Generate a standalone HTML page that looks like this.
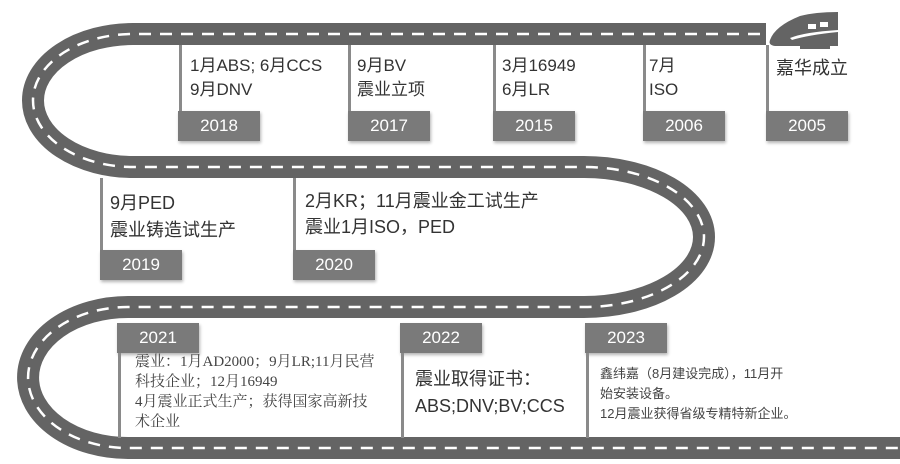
<!DOCTYPE html>
<html><head><meta charset="utf-8">
<style>
body{margin:0;width:900px;height:464px;background:#fff;overflow:hidden;position:relative;font-family:"Liberation Sans","Noto Sans CJK SC",sans-serif;}
svg{position:absolute;left:0;top:0}
.l{position:absolute;width:3px;background:#8a8a8a}
.y{position:absolute;width:82px;height:30px;background:#7a7a7a;color:#fff;font-size:17px;line-height:30px;text-align:center;box-shadow:1px 2px 3px rgba(0,0,0,.3)}
.t{position:absolute;color:#333;font-size:17px;line-height:24px;white-space:nowrap}
.s{position:absolute;color:#444;font-size:15px;line-height:20px;white-space:nowrap;font-family:"Liberation Serif","Noto Serif CJK SC",serif}
</style></head><body>
<svg width="900" height="464">
<g fill="none" stroke="#646464" stroke-width="22">
<path d="M766 34 H133 A100 66.5 0 0 0 133 167 H584 A120 70 0 0 1 584 307 H128 A100 70.5 0 0 0 128 448 H900"/>
</g>
<g fill="none" stroke="#fff" stroke-width="2.5" stroke-dasharray="12 9">
<path d="M760 34 H133 A100 66.5 0 0 0 133 167 H584 A120 70 0 0 1 584 307 H128 A100 70.5 0 0 0 128 448 H900"/>
</g>
<g fill="#646464">
<path d="M770 40 Q775 26 800 16 Q815 12 838 12 L838 46 L775 46 Q768 45 770 40Z"/>
<rect x="800" y="46" width="30" height="3"/>
</g>
<g fill="#fff"><rect x="808" y="24" width="8" height="5"/><rect x="820" y="22" width="8" height="5"/><path d="M790 38 Q805 32 838 30 L838 32 Q808 35 792 40Z"/></g>
</svg>

<div class="l" style="left:179px;top:45px;height:80px"></div><div class="y" style="left:178px;top:111px">2018</div>
<div class="t" style="left:190px;top:54px">1月ABS; 6月CCS<br>9月DNV</div>
<div class="l" style="left:348px;top:45px;height:80px"></div><div class="y" style="left:348px;top:111px">2017</div>
<div class="t" style="left:357px;top:54px">9月BV<br>震业立项</div>
<div class="l" style="left:493px;top:45px;height:80px"></div><div class="y" style="left:493px;top:111px">2015</div>
<div class="t" style="left:502px;top:54px">3月16949<br>6月LR</div>
<div class="l" style="left:643px;top:45px;height:80px"></div><div class="y" style="left:643px;top:111px">2006</div>
<div class="t" style="left:649px;top:54px">7月<br>ISO</div>
<div class="l" style="left:766px;top:45px;height:80px"></div><div class="y" style="left:766px;top:111px">2005</div>
<div class="t" style="left:776px;top:56px;font-size:18px">嘉华成立</div>

<div class="l" style="left:100px;top:178px;height:90px"></div><div class="y" style="left:100px;top:250px">2019</div>
<div class="t" style="left:110px;top:190px;font-size:18px;line-height:27px">9月PED<br>震业铸造试生产</div>
<div class="l" style="left:293px;top:178px;height:90px"></div><div class="y" style="left:293px;top:250px">2020</div>
<div class="t" style="left:305px;top:188px;font-size:18px;line-height:26px">2月KR；11月震业金工试生产<br>震业1月ISO，PED</div>

<div class="y" style="left:117px;top:323px">2021</div><div class="l" style="left:118px;top:353px;height:85px"></div>
<div class="s" style="left:135px;top:352px">震业：1月AD2000；9月LR;11月民营<br>科技企业；12月16949<br>4月震业正式生产；获得国家高新技<br>术企业</div>
<div class="y" style="left:400px;top:323px">2022</div><div class="l" style="left:401px;top:353px;height:85px"></div>
<div class="t" style="left:415px;top:366px;font-size:18px;line-height:27px">震业取得证书：<br>ABS;DNV;BV;CCS</div>
<div class="y" style="left:585px;top:323px">2023</div><div class="l" style="left:586px;top:353px;height:85px"></div>
<div class="s" style="left:600px;top:364px;font-size:13px;font-family:'Liberation Sans','Noto Sans CJK SC',sans-serif">鑫纬嘉（8月建设完成），11月开<br>始安装设备。<br>12月震业获得省级专精特新企业。</div>
</body></html>
